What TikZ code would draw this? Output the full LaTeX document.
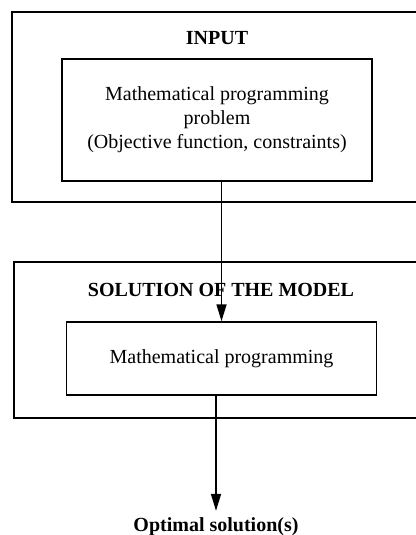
\documentclass[tikz,border=0pt]{standalone}
\usepackage{fontspec}
\setmainfont{Liberation Serif}
\usetikzlibrary{positioning,calc,arrows.meta}

\begin{document}
\begin{tikzpicture}[x=0.5pt,y=-0.5pt,
    outer/.style={rectangle,draw,line width=1.1pt,inner sep=0pt},
    inner/.style={rectangle,draw,line width=0.75pt,minimum width=155pt,align=center,inner sep=0pt},
    head/.style={font=\bfseries},
    arr/.style={-{Triangle[length=8.5pt,width=5pt]},line width=0.8pt}]

\useasboundingbox (0,0) rectangle (416,535);

\node[outer,minimum width=214pt,minimum height=95pt] (inp) at (226,107) {};
\node[head] (inptitle) at (217,38) {INPUT};
\node[inner,minimum height=61pt] (inbox) at (217,120) {Mathematical programming\\problem\\(Objective function, constraints)};

\node[outer,minimum width=213pt,minimum height=78pt] (sol) at (227,340) {};
\node[head] (soltitle) at (221,290) {SOLUTION OF THE MODEL};
\node[inner,minimum height=36.5pt] (solbox) at (221.5,358.5) {Mathematical programming};

\node[head] (opt) at (216,527) {Optimal solution(s)};

\draw[arr] (solbox.north |- inbox.south) -- (solbox.north);
\draw[arr] (solbox.south -| opt.north) -- (opt.north);

\end{tikzpicture}
\end{document}
